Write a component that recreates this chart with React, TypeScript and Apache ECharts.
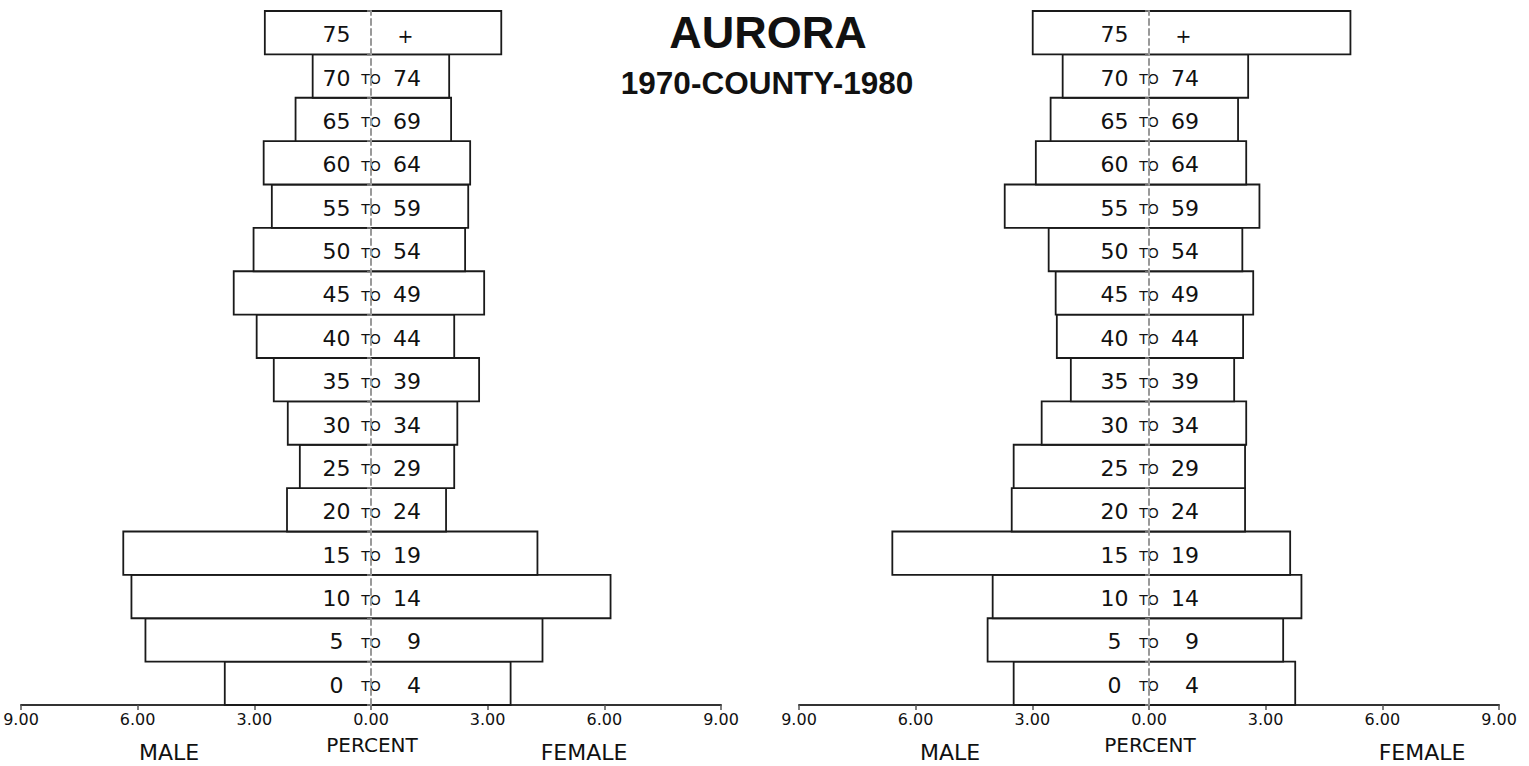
import React, { useEffect, useRef } from "react";
import * as echarts from "echarts";

// Age groups, bottom (index 0) to top
const ageGroups = ["0-4", "5-9", "10-14", "15-19", "20-24", "25-29", "30-34", "35-39", "40-44", "45-49", "50-54", "55-59", "60-64", "65-69", "70-74", "75+"];

// 1970 (left pyramid), percent of population
const male1970 = [3.76, 5.80, 6.16, 6.37, 2.16, 1.83, 2.14, 2.50, 2.94, 3.53, 3.02, 2.55, 2.76, 1.94, 1.50, 2.73];
const female1970 = [3.59, 4.41, 6.16, 4.28, 1.93, 2.14, 2.22, 2.78, 2.14, 2.91, 2.42, 2.50, 2.55, 2.06, 2.01, 3.35];

// 1980 (right pyramid)
const male1980 = [3.48, 4.15, 4.02, 6.60, 3.53, 3.48, 2.76, 2.01, 2.37, 2.40, 2.58, 3.71, 2.91, 2.53, 2.22, 2.99];
const female1980 = [3.76, 3.45, 3.92, 3.63, 2.47, 2.47, 2.50, 2.19, 2.42, 2.68, 2.40, 2.84, 2.50, 2.29, 2.55, 5.18];

const axisMin = -9;
const axisMax = 9;
const axisStep = 3;

const titleText = "AURORA";
const subtitleText = "1970-COUNTY-1980";

const FONT = "DejaVu Sans";

function ageLabel(g: string): string {
  if (g.endsWith("+")) return `{a|${g.slice(0, -1)}}{s|}{p|+}`;
  const [lo, hi] = g.split("-");
  return `{a|${lo}}{s|TO}{b|${hi}}`;
}

const richAge = {
  a: { width: 31, align: "right", fontSize: 22, fontFamily: FONT, fill: "#111", verticalAlign: "bottom", lineHeight: 26 },
  s: { width: 38, align: "center", fontSize: 14, fontFamily: FONT, fill: "#111", verticalAlign: "bottom", lineHeight: 26, padding: [0, 0, 3, 0] },
  b: { width: 31, align: "right", fontSize: 22, fontFamily: FONT, fill: "#111", verticalAlign: "bottom", lineHeight: 26 },
  p: { width: 31, align: "left", fontSize: 19, fontFamily: FONT, fill: "#111", verticalAlign: "bottom", lineHeight: 26 },
};

function renderBox(params: any, api: any) {
  const i = api.value(0);
  const m = api.value(1);
  const f = api.value(2);
  const p1 = api.coord([-m, i]);
  const p2 = api.coord([f, i]);
  const c = api.coord([0, i]);
  const h = api.size([0, 1])[1];
  return {
    type: "group",
    children: [
      {
        type: "rect",
        shape: { x: p1[0], y: p1[1] - h / 2, width: p2[0] - p1[0], height: h },
        style: { fill: "#fff", stroke: "#1a1a1a", lineWidth: 1.8 },
      },
      {
        type: "text",
        x: c[0],
        y: c[1],
        style: {
          text: ageLabel(ageGroups[i]),
          rich: richAge,
          align: "center",
          verticalAlign: "middle",
          fontFamily: FONT,
          fontSize: 22,
          fill: "#111",
        },
      },
    ],
  };
}

export default function App() {
  const ref = useRef<HTMLDivElement>(null);
  useEffect(() => {
    if (!ref.current) return;
    const chart = echarts.init(ref.current, undefined, { renderer: "svg" });
    const grids = [
      { left: 21, width: 700, top: 11, height: 694, containLabel: false, outerBoundsMode: "none" },
      { left: 799, width: 700, top: 11, height: 694, containLabel: false, outerBoundsMode: "none" },
    ];
    const xAxes = grids.map((_, gi) => ({
      type: "value",
      gridIndex: gi,
      min: axisMin,
      max: axisMax,
      interval: axisStep,
      axisLine: { show: true, onZero: false, lineStyle: { color: "#333", width: 2 } },
      axisTick: { show: true, length: 5, lineStyle: { color: "#555", width: 1.5 } },
      splitLine: { show: false },
      axisLabel: {
        formatter: (v: number) => Math.abs(v).toFixed(2),
        fontFamily: FONT,
        fontSize: 16,
        color: "#111",
        margin: 6,
      },
    }));
    const yAxes = grids.map((_, gi) => ({
      type: "category",
      gridIndex: gi,
      data: ageGroups,
      z: 10,
      axisLine: { show: true, onZero: true, lineStyle: { color: "#999", width: 2, type: [6, 4] } },
      axisTick: { show: true, length: 4, lineStyle: { color: "#888", width: 1.5 } },
      splitLine: { show: false },
      axisLabel: { show: false },
    }));
    const mkData = (male: number[], female: number[]) => ageGroups.map((_, i) => [i, male[i], female[i]]);
    const bottomText = (x: number, y: number, text: string, size: number) => ({
      type: "text",
      x,
      y,
      style: { text, fontFamily: FONT, fontSize: size, fill: "#111", align: "center", verticalAlign: "middle" },
    });
    chart.setOption({
      animation: false,
      backgroundColor: "#fff",
      grid: grids,
      xAxis: xAxes,
      yAxis: yAxes,
      series: [
        {
          name: "1970",
          type: "custom",
          xAxisIndex: 0,
          yAxisIndex: 0,
          renderItem: renderBox,
          encode: { y: 0, x: [1, 2] },
          data: mkData(male1970, female1970),
        },
        {
          name: "1980",
          type: "custom",
          xAxisIndex: 1,
          yAxisIndex: 1,
          renderItem: renderBox,
          encode: { y: 0, x: [1, 2] },
          data: mkData(male1980, female1980),
        },
      ],
      graphic: [
        {
          type: "text",
          x: 768,
          y: 32,
          style: { text: titleText, fontFamily: "Liberation Sans", fontWeight: "bold", fontSize: 45, fill: "#111", align: "center", verticalAlign: "middle" },
        },
        {
          type: "text",
          x: 767,
          y: 83,
          style: { text: subtitleText, fontFamily: "Liberation Sans", fontWeight: "bold", fontSize: 31.5, fill: "#111", align: "center", verticalAlign: "middle" },
        },
        bottomText(169, 752, "MALE", 22),
        bottomText(372, 745, "PERCENT", 20),
        bottomText(584, 752, "FEMALE", 22),
        bottomText(950, 752, "MALE", 22),
        bottomText(1150, 745, "PERCENT", 20),
        bottomText(1422, 752, "FEMALE", 22),
      ],
    });
    return () => chart.dispose();
  }, []);
  return <div ref={ref} style={{ position: "absolute", left: 0, top: 0, width: 1529, height: 766 }} />;
}
